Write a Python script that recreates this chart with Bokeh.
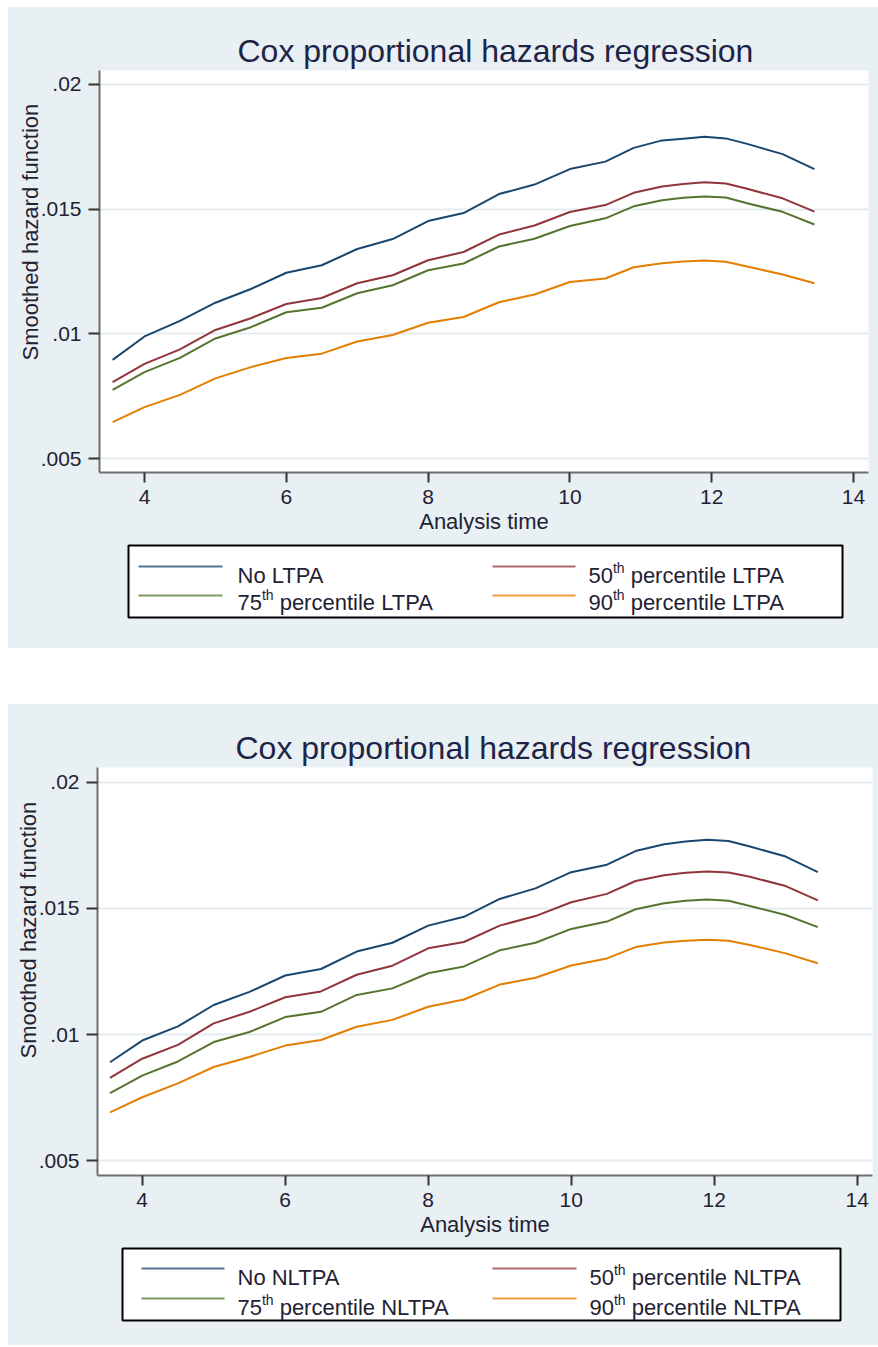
from bokeh.plotting import figure
from bokeh.models import Range1d, FixedTicker, Spacer, CustomJSTickFormatter, Title
from bokeh.layouts import column, row
from bokeh.embed import file_html
from bokeh.resources import INLINE
from bokeh.core.properties import value

# ---------------- data ----------------
analysis_time = [3.55, 4.0, 4.5, 5.0, 5.5, 6.0, 6.5, 7.0, 7.5, 8.0, 8.5, 9.0,
                 9.5, 10.0, 10.5, 10.9, 11.3, 11.6, 11.9, 12.2, 12.5, 13.0, 13.45]

ltpa_none = [0.00896, 0.00990, 0.01052, 0.01125, 0.01180, 0.01245, 0.01275, 0.01340, 0.01380, 0.01452, 0.01484, 0.01560,
             0.01598, 0.01660, 0.01690, 0.01745, 0.01775, 0.01782, 0.01790, 0.01783, 0.01761, 0.01720, 0.01660]
ltpa_p50 = [0.00807, 0.00880, 0.00938, 0.01016, 0.01063, 0.01120, 0.01144, 0.01203, 0.01235, 0.01295, 0.01328, 0.01398,
            0.01434, 0.01488, 0.01516, 0.01565, 0.01590, 0.01600, 0.01607, 0.01602, 0.01581, 0.01543, 0.01490]
ltpa_p75 = [0.00776, 0.00847, 0.00904, 0.00982, 0.01027, 0.01087, 0.01105, 0.01163, 0.01195, 0.01255, 0.01282, 0.01350,
            0.01381, 0.01432, 0.01463, 0.01511, 0.01535, 0.01545, 0.01550, 0.01546, 0.01523, 0.01489, 0.01438]
ltpa_p90 = [0.00647, 0.00707, 0.00756, 0.00822, 0.00867, 0.00904, 0.00921, 0.00970, 0.00996, 0.01045, 0.01068, 0.01127,
            0.01158, 0.01208, 0.01222, 0.01267, 0.01283, 0.01290, 0.01294, 0.01289, 0.01270, 0.01238, 0.01203]

nltpa_none = [0.00890, 0.00976, 0.01032, 0.01117, 0.01169, 0.01234, 0.01260, 0.01329, 0.01364, 0.01432, 0.01467, 0.01538,
              0.01580, 0.01644, 0.01674, 0.01728, 0.01755, 0.01766, 0.01773, 0.01768, 0.01746, 0.01706, 0.01644]
nltpa_p50 = [0.00828, 0.00904, 0.00959, 0.01044, 0.01090, 0.01148, 0.01171, 0.01237, 0.01273, 0.01342, 0.01367, 0.01432,
             0.01470, 0.01525, 0.01558, 0.01609, 0.01632, 0.01642, 0.01647, 0.01643, 0.01626, 0.01589, 0.01532]
nltpa_p75 = [0.00767, 0.00837, 0.00893, 0.00970, 0.01010, 0.01069, 0.01090, 0.01157, 0.01183, 0.01243, 0.01270, 0.01334,
             0.01364, 0.01419, 0.01448, 0.01497, 0.01521, 0.01531, 0.01536, 0.01531, 0.01510, 0.01474, 0.01426]
nltpa_p90 = [0.00691, 0.00751, 0.00806, 0.00871, 0.00911, 0.00956, 0.00978, 0.01031, 0.01058, 0.01110, 0.01139, 0.01198,
             0.01225, 0.01274, 0.01302, 0.01347, 0.01365, 0.01372, 0.01376, 0.01372, 0.01355, 0.01322, 0.01283]

x_ticks = [4, 6, 8, 10, 12, 14]
y_ticks = [0.005, 0.01, 0.015, 0.02]

title_text = "Cox proportional hazards regression"
x_label = "Analysis time"
y_label = "Smoothed hazard function"

# legend entries: (ordinal number or None, rest of label)
ltpa_labels = [(None, "No LTPA"), ("50", "percentile LTPA"), ("75", "percentile LTPA"), ("90", "percentile LTPA")]
nltpa_labels = [(None, "No NLTPA"), ("50", "percentile NLTPA"), ("75", "percentile NLTPA"), ("90", "percentile NLTPA")]

colors = ["#1a476f", "#90353b", "#55752f", "#e37e00"]

# ---------------- styling ----------------
BG = "#e9f0f3"
FONT = "Liberation Sans"
TXT = "#1f2233"
LEFT = 8          # panel left edge on the page
W = 870


def chart(series, xr, yr, height, b_left, b_right, b_top, b_bottom, ylab_offset):
    p = figure(width=W, height=height, output_backend="svg", toolbar_location=None,
               x_range=Range1d(*xr), y_range=Range1d(*yr),
               min_border_left=b_left, min_border_right=b_right,
               min_border_top=b_top, min_border_bottom=b_bottom,
               border_fill_color=BG, background_fill_color="white",
               outline_line_color=None, title=title_text)
    p.title.text_font = FONT
    p.title.text_font_size = "32px"
    p.title.text_font_style = "normal"
    p.title.text_color = "#1e2448"
    p.title.align = "left"
    p.title.offset = 138
    p.title.standoff = 3

    for ys, c in zip(series, colors):
        p.line(analysis_time, ys, line_color=c, line_width=2, line_join="round")

    xa = p.xaxis[0]
    xa.ticker = FixedTicker(ticks=x_ticks)
    xa.axis_label = x_label
    ya = p.yaxis[0]
    ya.ticker = FixedTicker(ticks=y_ticks)
    ya.formatter = CustomJSTickFormatter(
        code="return tick.toFixed(3).replace(/^0/, '').replace(/0+$/, '');")
    for ax in (xa, ya):
        ax.axis_line_color = "#6e6e6e"
        ax.axis_line_width = 2
        ax.major_tick_line_color = "#333333"
        ax.major_tick_line_width = 2
        ax.major_tick_in = 0
        ax.minor_tick_line_color = None
        ax.major_label_text_font = FONT
        ax.major_label_text_font_size = "21px"
        ax.major_label_text_color = TXT
        ax.axis_label_text_font = FONT
        ax.axis_label_text_font_size = "22px"
        ax.axis_label_text_font_style = "normal"
        ax.axis_label_text_color = TXT
    xa.major_tick_out = 10
    xa.major_label_standoff = 7
    xa.axis_label_standoff = 2
    ya.major_tick_out = 11
    ya.major_label_standoff = 7

    ytitle = Title(text=y_label, align="left", offset=ylab_offset, standoff=-10,
                   text_font=FONT, text_font_size="22px", text_font_style="normal",
                   text_color=TXT)
    p.add_layout(ytitle, "left")

    p.xgrid.grid_line_color = None
    p.ygrid.ticker = FixedTicker(ticks=y_ticks)
    p.ygrid.grid_line_color = "#e3ecef"
    p.ygrid.grid_line_width = 2
    return p


def legend_fig(labels, height, b_left, b_right, box_x, col_line_x, col_text_x, line_rows, base_rows):
    # x data units are page pixels (frame aligned with the chart frame above it);
    # the figure is transparent so the panel background shows through evenly
    fl = LEFT + b_left
    fr = LEFT + W - b_right
    p = figure(width=W, height=height, output_backend="svg", toolbar_location=None,
               x_range=Range1d(fl, fr), y_range=Range1d(height, 0),
               min_border_left=b_left, min_border_right=b_right,
               min_border_top=0, min_border_bottom=0,
               x_axis_location=None, y_axis_location=None,
               border_fill_color=None, background_fill_color=None, outline_line_color=None)
    p.grid.visible = False
    p.quad(left=[box_x[0]], right=[box_x[1]], top=[3], bottom=[75],
           fill_color="white", line_color="black", line_width=2)
    fs = 22
    for i, ((num, rest), c) in enumerate(zip(labels, colors)):
        r, col = i // 2, i % 2
        x0, x1 = col_line_x[col]
        p.line([x0, x1], [line_rows[r], line_rows[r]], line_color=c, line_width=2, line_alpha=0.75)
        tx = col_text_x[col]
        common = dict(text_font=value(FONT), text_color=TXT, text_align="left", text_baseline="alphabetic")
        if num is None:
            p.text([tx], [base_rows[r]], text=[rest], text_font_size=value(f"{fs}px"), **common)
        else:
            num_w = 0.556 * fs * len(num)
            p.text([tx], [base_rows[r]], text=[num], text_font_size=value(f"{fs}px"), **common)
            p.text([tx + num_w], [base_rows[r] - 8], text=["th"], text_font_size=value("14px"), **common)
            p.text([tx + num_w + 0.834 * 14 + 6], [base_rows[r]], text=[rest],
                   text_font_size=value(f"{fs}px"), **common)
    return p


# top panel: page y 7..648
top_chart = chart([ltpa_none, ltpa_p50, ltpa_p75, ltpa_p90],
                  (3.365, 14.212), (0.004452, 0.020548),
                  height=535, b_left=91, b_right=10, b_top=63, b_bottom=70, ylab_offset=112)
top_leg = legend_fig(ltpa_labels, 106, 91, 10, (128, 842), [(138, 222), (492, 575)], [237, 588],
                     [24, 53], [33, 60])

# bottom panel: page y 704..1345
bot_chart = chart([nltpa_none, nltpa_p50, nltpa_p75, nltpa_p90],
                  (3.375, 14.214), (0.004405, 0.020595),
                  height=541, b_left=89, b_right=6, b_top=63, b_bottom=70, ylab_offset=117)
bot_leg = legend_fig(nltpa_labels, 100, 89, 6, (122, 840), [(141, 224), (492, 576)], [237, 589],
                     [23, 53], [32, 62])

top_panel = column(top_chart, top_leg, styles={"background-color": BG})
bot_panel = column(bot_chart, bot_leg, styles={"background-color": BG})

col = column(Spacer(width=W, height=7), top_panel, Spacer(width=W, height=56), bot_panel)
layout = row(Spacer(width=LEFT, height=10), col)

open("out.html", "w").write(file_html(layout, INLINE))
